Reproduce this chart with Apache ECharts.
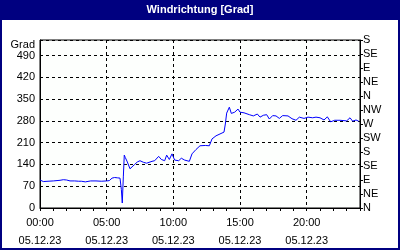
<!DOCTYPE html>
<html>
<head>
<meta charset="utf-8">
<script src="https://cdn.jsdelivr.net/npm/echarts@6/dist/echarts.min.js"></script>
<style>html,body{margin:0;padding:0;background:#fff}#c{width:400px;height:250px}</style>
</head>
<body>
<div id="c"></div>
<script>
// hours since 00:00 on 05.12.23
const hours = [0,0.25,0.6,1.0,1.5,1.75,2.0,2.25,2.6,2.9,3.0,3.1,3.4,3.8,4.2,4.6,5.0,5.2,5.4,5.6,5.8,6.0,6.1,6.17,6.25,6.32,6.4,6.55,6.75,6.9,7.1,7.3,7.5,7.75,8.0,8.15,8.4,8.6,8.9,9.1,9.35,9.5,9.7,9.9,10.1,10.4,10.6,10.85,11.0,11.2,11.4,11.7,12.0,12.4,12.7,12.9,13.2,13.5,13.8,13.9,14.0,14.2,14.35,14.6,14.85,15.0,15.3,15.7,16.0,16.3,16.5,16.75,17.0,17.2,17.45,17.7,17.95,18.2,18.6,18.9,19.2,19.45,19.8,20.1,20.45,20.7,21.0,21.3,21.55,21.8,22.1,22.5,23.0,23.25,23.45,23.7,23.9];
const direction = [90,85,86,87,89,91,90,87,87,86,83,86,84,87,87,86,87,88,96,98,97,96,60,16,100,170,162,148,126,124,140,148,152,147,144,138,150,152,166,156,152,170,156,174,154,152,160,154,158,150,174,188,200,201,200,222,232,238,244,270,305,324,304,308,318,308,306,300,296,302,292,298,300,286,297,296,288,297,296,287,282,292,288,292,290,292,290,283,293,277,282,282,280,290,279,283,279];
const dateLabel = '05.12.23';
const leftTicks = [0,70,140,210,280,350,420,490];
const compass = ['N','NE','E','SE','S','SW','W','NW','N','NE','E','SE','S'];

const data = hours.map((h,i)=>[h, direction[i]]);
const font = 'Liberation Sans';
const chart = echarts.init(document.getElementById('c'), null, {renderer:'canvas'});
chart.setOption({
  animation:false,
  backgroundColor:'#ffffff',
  graphic:[
    {type:'rect', shape:{x:0,y:0,width:400,height:20}, style:{fill:'#000080'}, z:10},
    {type:'rect', shape:{x:1,y:1,width:398,height:248}, style:{fill:'none', stroke:'#000080', lineWidth:2}, z:10},
    {type:'text', style:{text:'Windrichtung [Grad]', x:200, y:10, fill:'#ffffff', font:'bold 11px "Liberation Sans"', align:'center', verticalAlign:'middle', textAlign:'center', textVerticalAlign:'middle'}, z:11},
    {type:'text', style:{text:'Grad', x:35, y:45, fill:'#000000', font:'11px "Liberation Sans"', align:'right', verticalAlign:'middle', textAlign:'right', textVerticalAlign:'middle'}, z:11}
  ],
  grid:{left:40, right:40, top:40, bottom:40, show:true, backgroundColor:'#fdfffd', borderColor:'#000', borderWidth:1},
  xAxis:{
    type:'value', min:0, max:24, interval:5,
    axisLine:{show:true, lineStyle:{color:'#000', width:1}},
    axisTick:{show:true, length:3, inside:false, lineStyle:{color:'#000'}},
    minorTick:{show:true, splitNumber:5, length:3, lineStyle:{color:'#000'}},
    splitLine:{show:true, lineStyle:{color:'#000', type:[3,3], width:1}},
    axisLabel:{color:'#000', fontFamily:font, fontSize:11, lineHeight:18, margin:6,
      formatter:v=> v>=24 ? '' : (String(v).padStart(2,'0')+':00\n'+dateLabel)}
  },
  yAxis:[
    {type:'value', min:0, max:540, interval:70, position:'left',
     axisLine:{show:true, lineStyle:{color:'#000'}},
     axisTick:{show:false},
     splitLine:{show:true, lineStyle:{color:'#000', type:[3,3], width:1}},
     axisLabel:{color:'#000', fontFamily:font, fontSize:11, margin:5,
       formatter:v=> leftTicks.indexOf(v)>=0 ? String(v) : ''}
    },
    {type:'value', min:0, max:540, interval:45, position:'right',
     axisLine:{show:true, lineStyle:{color:'#000'}},
     axisTick:{show:true, length:3, inside:false, lineStyle:{color:'#000'}},
     splitLine:{show:false},
     axisLabel:{color:'#000', fontFamily:font, fontSize:11, margin:3,
       formatter:v=> compass[Math.round(v/45)] || ''}
    }
  ],
  series:[{
    type:'line', data:data, yAxisIndex:0, showSymbol:false, symbol:'none',
    lineStyle:{color:'#0000ff', width:1}, z:3
  }]
});
</script>
</body>
</html>
